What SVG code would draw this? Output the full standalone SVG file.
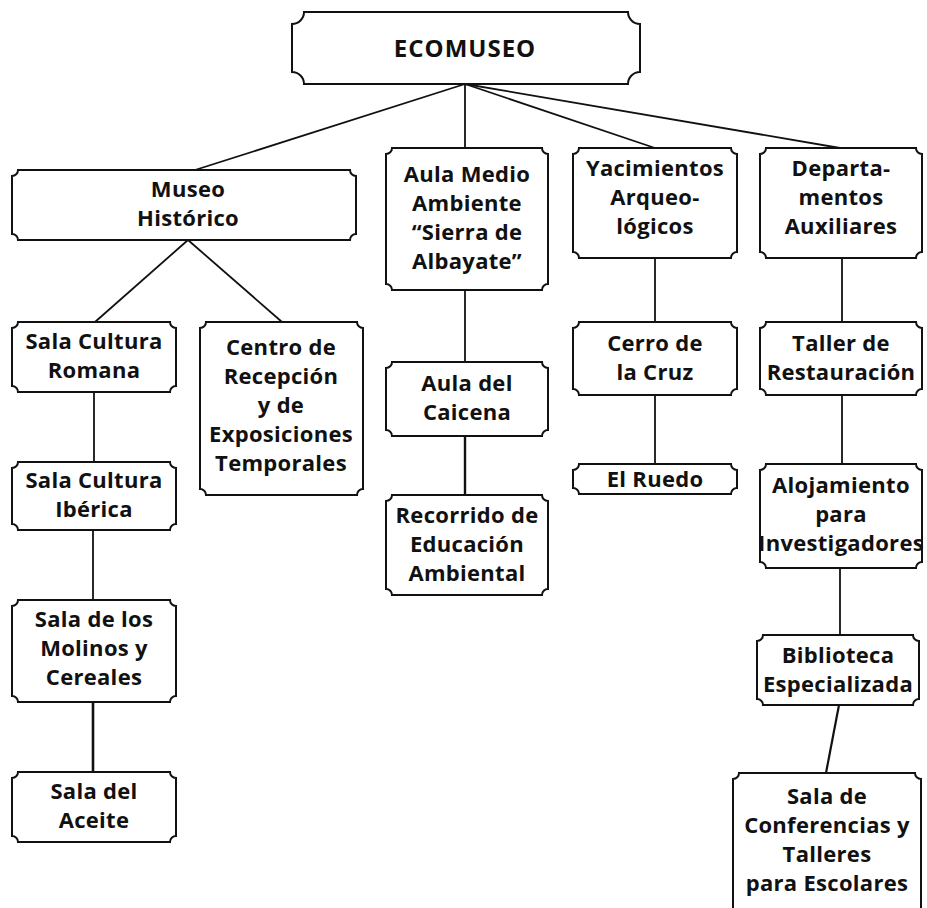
<svg xmlns="http://www.w3.org/2000/svg" width="927" height="908" viewBox="0 0 927 908">
<style>
.box{fill:#fff;stroke:#111;stroke-width:2}
.t{font-family:"Open Sans","Liberation Sans",sans-serif;font-weight:700;font-size:22px;letter-spacing:0.3px;fill:#111;text-anchor:middle}
.big{font-size:24px;letter-spacing:1px}
.c{stroke:#111;stroke-width:1.8;fill:none}
</style>
<rect width="927" height="908" fill="#fff"/>
<g id="connectors">
<line class="c" x1="465" y1="84" x2="195" y2="170"/>
<line class="c" x1="465" y1="84" x2="465" y2="148"/>
<line class="c" x1="465" y1="84" x2="655" y2="148"/>
<line class="c" x1="465" y1="84" x2="840" y2="148"/>
<line class="c" x1="188" y1="240" x2="95" y2="322"/>
<line class="c" x1="188" y1="240" x2="282" y2="322"/>
<line class="c" x1="94" y1="392" x2="94" y2="462"/>
<line class="c" x1="93" y1="530" x2="93" y2="600"/>
<line class="c" x1="93" y1="702" x2="93" y2="772" style="stroke-width:2.6"/>
<line class="c" x1="465" y1="290" x2="465" y2="362"/>
<line class="c" x1="465" y1="436" x2="465" y2="495" style="stroke-width:2.4"/>
<line class="c" x1="655" y1="258" x2="655" y2="322"/>
<line class="c" x1="655" y1="395" x2="655" y2="464"/>
<line class="c" x1="842" y1="258" x2="842" y2="322"/>
<line class="c" x1="842" y1="395" x2="842" y2="464"/>
<line class="c" x1="840" y1="568" x2="840" y2="635"/>
<line class="c" x1="839" y1="705" x2="826" y2="773" style="stroke-width:2.2"/>
</g>
<g id="ecomuseo">
<path class="box" d="M304,12 H628 A12,12 0 0 0 640,24 V72 A12,12 0 0 0 628,84 H304 A12,12 0 0 0 292,72 V24 A12,12 0 0 0 304,12 Z"/>
<text class="t big" x="465" y="57">ECOMUSEO</text>
</g>
<g id="museo-historico">
<path class="box" d="M18,170 H350 A6,6 0 0 0 356,176 V234 A6,6 0 0 0 350,240 H18 A6,6 0 0 0 12,234 V176 A6,6 0 0 0 18,170 Z"/>
<text class="t" x="188" y="197">Museo</text>
<text class="t" x="188" y="226">Histórico</text>
</g>
<g id="aula-medio-ambiente">
<path class="box" d="M392,148 H542 A6,6 0 0 0 548,154 V284 A6,6 0 0 0 542,290 H392 A6,6 0 0 0 386,284 V154 A6,6 0 0 0 392,148 Z"/>
<text class="t" x="467" y="182">Aula Medio</text>
<text class="t" x="467" y="211">Ambiente</text>
<text class="t" x="467" y="240">“Sierra de</text>
<text class="t" x="467" y="269">Albayate”</text>
</g>
<g id="yacimientos">
<path class="box" d="M579,148 H731 A6,6 0 0 0 737,154 V252 A6,6 0 0 0 731,258 H579 A6,6 0 0 0 573,252 V154 A6,6 0 0 0 579,148 Z"/>
<text class="t" x="655" y="176">Yacimientos</text>
<text class="t" x="655" y="205">Arqueo-</text>
<text class="t" x="655" y="234">lógicos</text>
</g>
<g id="departamentos">
<path class="box" d="M766,148 H916 A6,6 0 0 0 922,154 V252 A6,6 0 0 0 916,258 H766 A6,6 0 0 0 760,252 V154 A6,6 0 0 0 766,148 Z"/>
<text class="t" x="841" y="176">Departa-</text>
<text class="t" x="841" y="205">mentos</text>
<text class="t" x="841" y="234">Auxiliares</text>
</g>
<g id="sala-romana">
<path class="box" d="M18,322 H170 A6,6 0 0 0 176,328 V386 A6,6 0 0 0 170,392 H18 A6,6 0 0 0 12,386 V328 A6,6 0 0 0 18,322 Z"/>
<text class="t" x="94" y="349">Sala Cultura</text>
<text class="t" x="94" y="378">Romana</text>
</g>
<g id="centro-recepcion">
<path class="box" d="M206,322 H357 A6,6 0 0 0 363,328 V489 A6,6 0 0 0 357,495 H206 A6,6 0 0 0 200,489 V328 A6,6 0 0 0 206,322 Z"/>
<text class="t" x="281" y="355">Centro de</text>
<text class="t" x="281" y="384">Recepción</text>
<text class="t" x="281" y="413">y de</text>
<text class="t" x="281" y="442">Exposiciones</text>
<text class="t" x="281" y="471">Temporales</text>
</g>
<g id="aula-caicena">
<path class="box" d="M392,362 H542 A6,6 0 0 0 548,368 V430 A6,6 0 0 0 542,436 H392 A6,6 0 0 0 386,430 V368 A6,6 0 0 0 392,362 Z"/>
<text class="t" x="467" y="391">Aula del</text>
<text class="t" x="467" y="420">Caicena</text>
</g>
<g id="cerro-cruz">
<path class="box" d="M579,322 H731 A6,6 0 0 0 737,328 V389 A6,6 0 0 0 731,395 H579 A6,6 0 0 0 573,389 V328 A6,6 0 0 0 579,322 Z"/>
<text class="t" x="655" y="351">Cerro de</text>
<text class="t" x="655" y="380">la Cruz</text>
</g>
<g id="el-ruedo">
<path class="box" d="M579,464 H731 A6,6 0 0 0 737,470 V488 A6,6 0 0 0 731,494 H579 A6,6 0 0 0 573,488 V470 A6,6 0 0 0 579,464 Z"/>
<text class="t" x="655" y="487">El Ruedo</text>
</g>
<g id="taller-restauracion">
<path class="box" d="M766,322 H916 A6,6 0 0 0 922,328 V389 A6,6 0 0 0 916,395 H766 A6,6 0 0 0 760,389 V328 A6,6 0 0 0 766,322 Z"/>
<text class="t" x="841" y="351">Taller de</text>
<text class="t" x="841" y="380">Restauración</text>
</g>
<g id="alojamiento">
<path class="box" d="M766,464 H916 A6,6 0 0 0 922,470 V562 A6,6 0 0 0 916,568 H766 A6,6 0 0 0 760,562 V470 A6,6 0 0 0 766,464 Z"/>
<text class="t" x="841" y="493">Alojamiento</text>
<text class="t" x="841" y="522">para</text>
<text class="t" x="841" y="551">Investigadores</text>
</g>
<g id="sala-iberica">
<path class="box" d="M18,462 H170 A6,6 0 0 0 176,468 V524 A6,6 0 0 0 170,530 H18 A6,6 0 0 0 12,524 V468 A6,6 0 0 0 18,462 Z"/>
<text class="t" x="94" y="488">Sala Cultura</text>
<text class="t" x="94" y="517">Ibérica</text>
</g>
<g id="recorrido">
<path class="box" d="M392,495 H542 A6,6 0 0 0 548,501 V589 A6,6 0 0 0 542,595 H392 A6,6 0 0 0 386,589 V501 A6,6 0 0 0 392,495 Z"/>
<text class="t" x="467" y="523">Recorrido de</text>
<text class="t" x="467" y="552">Educación</text>
<text class="t" x="467" y="581">Ambiental</text>
</g>
<g id="sala-molinos">
<path class="box" d="M18,600 H170 A6,6 0 0 0 176,606 V696 A6,6 0 0 0 170,702 H18 A6,6 0 0 0 12,696 V606 A6,6 0 0 0 18,600 Z"/>
<text class="t" x="94" y="627">Sala de los</text>
<text class="t" x="94" y="656">Molinos y</text>
<text class="t" x="94" y="685">Cereales</text>
</g>
<g id="biblioteca">
<path class="box" d="M763,635 H913 A6,6 0 0 0 919,641 V699 A6,6 0 0 0 913,705 H763 A6,6 0 0 0 757,699 V641 A6,6 0 0 0 763,635 Z"/>
<text class="t" x="838" y="663">Biblioteca</text>
<text class="t" x="838" y="692">Especializada</text>
</g>
<g id="sala-aceite">
<path class="box" d="M18,772 H170 A6,6 0 0 0 176,778 V836 A6,6 0 0 0 170,842 H18 A6,6 0 0 0 12,836 V778 A6,6 0 0 0 18,772 Z"/>
<text class="t" x="94" y="799">Sala del</text>
<text class="t" x="94" y="828">Aceite</text>
</g>
<g id="sala-conferencias">
<path class="box" d="M739,773 H915 A6,6 0 0 0 921,779 V914 H733 V779 A6,6 0 0 0 739,773 Z"/>
<text class="t" x="827" y="804">Sala de</text>
<text class="t" x="827" y="833">Conferencias y</text>
<text class="t" x="827" y="862">Talleres</text>
<text class="t" x="827" y="891">para Escolares</text>
</g>
</svg>
